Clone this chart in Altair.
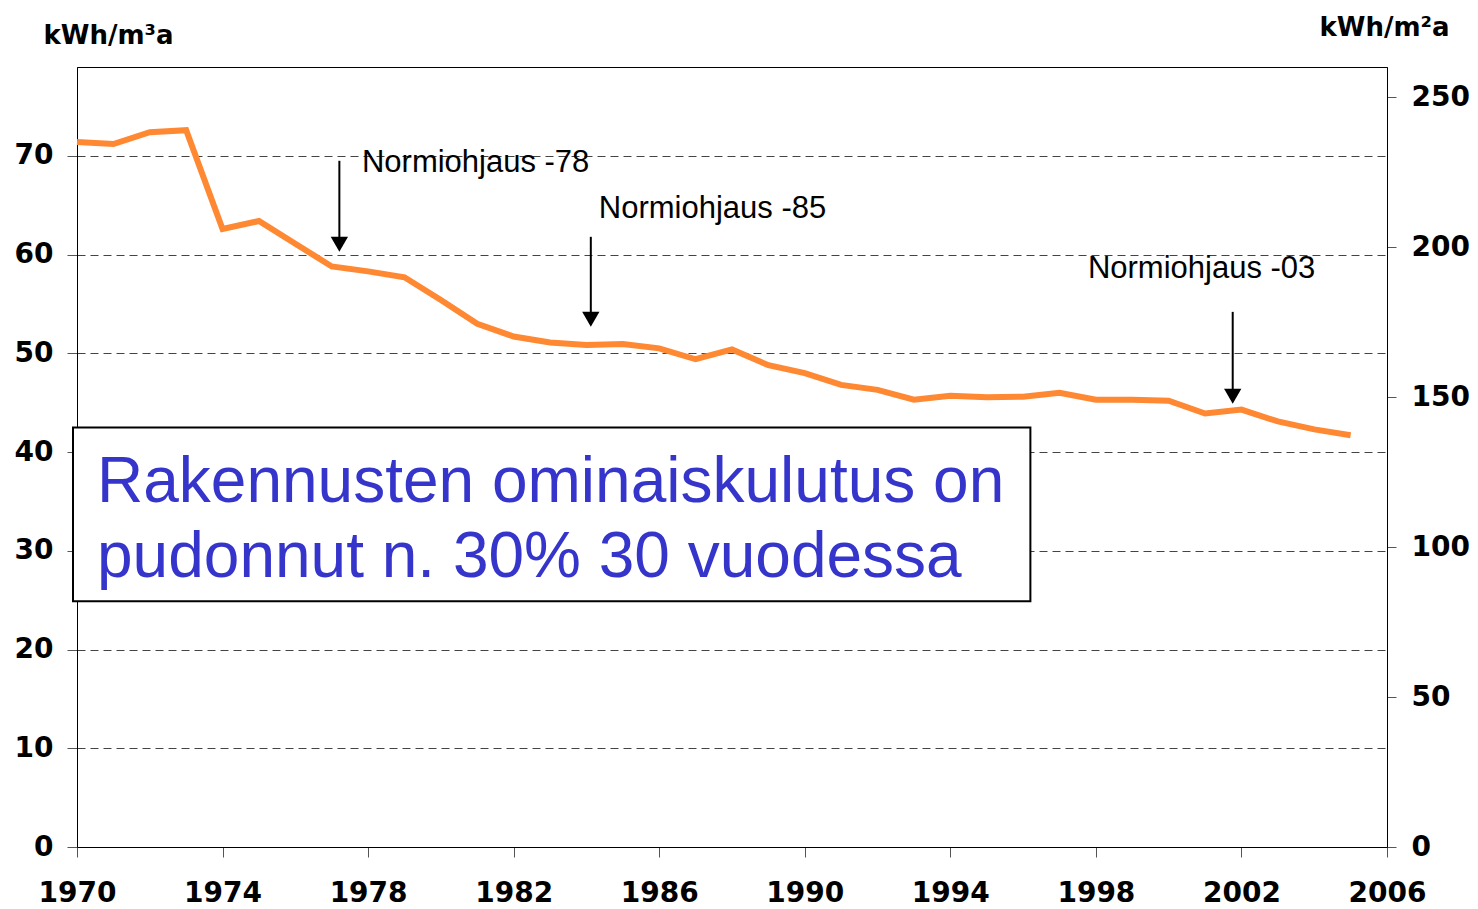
import altair as alt
import pandas as pd

# ---- data ----
years = list(range(1970, 2006))
kwh_m3 = [71.4, 71.2, 72.4, 72.6, 62.6, 63.4, 61.1, 58.8, 58.3, 57.7,
          55.4, 53.0, 51.7, 51.1, 50.85, 50.95, 50.5, 49.4, 50.4, 48.8,
          48.0, 46.8, 46.3, 45.3, 45.7, 45.55, 45.6, 46.0, 45.3, 45.3,
          45.2, 43.9, 44.3, 43.1, 42.3, 41.7]

ann_labels = ["Normiohjaus -78", "Normiohjaus -85", "Normiohjaus -03"]
ann_text_x = [1977.83, 1984.34, 1997.78]
ann_text_y = [68.37, 63.71, 57.63]
arrow_x = [1977.21, 1984.12, 2001.76]
arrow_top = [69.5, 61.8, 54.2]
arrow_tip = [60.3, 52.7, 44.9]
arrow_head = [t + 0.75 for t in arrow_tip]

box_x = [1969.89]
box_x2 = [1996.2]
box_y = [42.5]
box_y2 = [24.9]
box_lines = ["Rakennusten ominaiskulutus on", "pudonnut n. 30% 30 vuodessa"]
box_line_x = [1970.55, 1970.55]
box_line_y = [34.94, 27.35]

x_ticks = list(range(1970, 2007, 4))
left_ticks = list(range(0, 80, 10))
right_ticks = list(range(0, 300, 50))

X_DOM = [1970, 2006]
Y_DOM = [0, 79]
Y2_DOM = [0, 260]

AX_FONT = "DejaVu Sans"
TXT_FONT = "Liberation Sans"

line_df = pd.DataFrame({"year": years, "v": kwh_m3})
ann_df = pd.DataFrame({"label": ann_labels, "x": ann_text_x, "y": ann_text_y})
arr_df = pd.DataFrame({"x": arrow_x, "top": arrow_top, "tip": arrow_tip, "head": arrow_head})
box_df = pd.DataFrame({"x": box_x, "x2": box_x2, "y": box_y, "y2": box_y2})
boxtxt_df = pd.DataFrame({"t": box_lines, "x": box_line_x, "y": box_line_y})
right_df = pd.DataFrame({"r": right_ticks})

xs = alt.Scale(domain=X_DOM, nice=False, zero=False)
ys = alt.Scale(domain=Y_DOM, nice=False)

x_axis = alt.Axis(values=x_ticks, format="d", title=None, grid=False,
                  labelFont=AX_FONT, labelFontWeight="bold", labelFontSize=28,
                  labelColor="black", tickSize=10, tickColor="#555",
                  labelPadding=22, domainColor="black", labelFlush=False,
                  labelOverlap=False)
y_axis = alt.Axis(values=left_ticks, title="kWh/m³a", grid=True,
                  gridDash=[8, 5], gridColor="#444", gridWidth=1,
                  labelFont=AX_FONT, labelFontWeight="bold", labelFontSize=28,
                  labelColor="black", tickSize=10, tickColor="#555",
                  labelPadding=14, domainColor="black",
                  titleAngle=0, titleAlign="left", titleBaseline="alphabetic",
                  titleX=-34, titleY=-24, titleFont=AX_FONT, titleFontSize=26,
                  titleFontWeight="bold", titleColor="black")


def X(f):
    return alt.X(f, scale=xs, axis=x_axis)


def Y(f):
    return alt.Y(f, scale=ys, axis=y_axis)


line = alt.Chart(line_df).mark_line(color="#FF8833", strokeWidth=6).encode(
    x=X("year:Q"), y=Y("v:Q"),
)

box = alt.Chart(box_df).mark_rect(fill="white", stroke="black", strokeWidth=2).encode(
    x=X("x:Q"), x2="x2:Q", y=Y("y:Q"), y2="y2:Q",
)

box_text = alt.Chart(boxtxt_df).mark_text(
    font=TXT_FONT, fontSize=64, color="#3535CC", align="left", baseline="alphabetic"
).encode(x=X("x:Q"), y=Y("y:Q"), text="t:N")

arr_line = alt.Chart(arr_df).mark_rule(color="black", strokeWidth=2).encode(
    x=X("x:Q"), y=Y("top:Q"), y2="head:Q",
)
arr_head = alt.Chart(arr_df).mark_point(
    shape="triangle-down", size=300, filled=True, color="black", opacity=1
).encode(x=X("x:Q"), y=Y("head:Q"))

ann = alt.Chart(ann_df).mark_text(
    font=TXT_FONT, fontSize=31, color="black", align="left", baseline="alphabetic"
).encode(x=X("x:Q"), y=Y("y:Q"), text="label:N")

left_layer = alt.layer(line, box, box_text, arr_line, arr_head, ann)

right = alt.Chart(right_df).mark_point(opacity=0).encode(
    y=alt.Y("r:Q", scale=alt.Scale(domain=Y2_DOM, nice=False),
            axis=alt.Axis(orient="right", values=right_ticks, grid=False,
                          title="kWh/m²a",
                          labelFont=AX_FONT, labelFontWeight="bold", labelFontSize=28,
                          labelColor="black", tickSize=9, tickColor="#555",
                          labelPadding=15, domainColor="black",
                          titleAngle=0, titleAlign="left", titleBaseline="alphabetic",
                          titleX=-68, titleY=-32, titleFont=AX_FONT, titleFontSize=26,
                          titleFontWeight="bold", titleColor="black")),
)

chart = alt.layer(left_layer, right).resolve_scale(y="independent").properties(
    width=1310, height=780,
    padding={"left": 69, "top": 59, "right": 83, "bottom": 62},
    autosize=alt.AutoSizeParams(type="none"),
    background="white",
).configure_view(stroke="black", strokeWidth=1)

chart.save("out.html", embed_options={"renderer": "svg", "actions": False})
